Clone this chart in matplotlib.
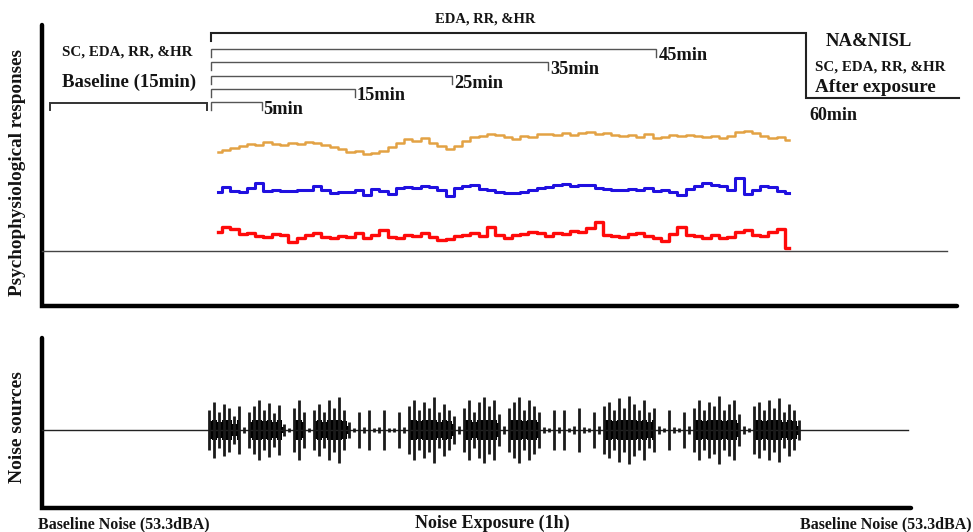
#!/usr/bin/env python3

import numpy as np
import matplotlib
matplotlib.use("Agg")
import matplotlib.pyplot as plt

# Schematic of the exposure protocol: physiological traces on top,
# noise waveform below. x is in minutes of exposure, y in figure pixels.

T0_PX = 211.0          # pixel column of minute 0
PX_PER_MIN = 9.917     # 60 min spans 211 -> 806 px

# nested measurement windows (label, right end in minutes as drawn)
window_labels = ["5min", "15min", "25min", "35min", "45min"]
window_ends = [5.1, 14.5, 24.3, 34.0, 44.9]

# traces: height in px above the reference line, sampled evenly
trace_start, trace_end = 0.7, 58.3
orange_vals = [99, 101, 103, 105, 107, 106, 109, 107, 106, 108,
               107, 109, 108, 106, 104, 102, 99, 100, 97, 98,
               100, 104, 108, 112, 110, 113, 108, 105, 102, 105,
               110, 114, 115, 117, 116, 114, 112, 115, 114, 117,
               117, 116, 118, 116, 118, 119, 117, 118, 116, 115,
               116, 114, 117, 113, 114, 116, 115, 116, 115, 114,
               115, 113, 115, 119, 120, 118, 115, 113, 114, 111]
blue_vals = [59, 64, 60, 59, 63, 68, 60, 61, 60, 60,
             61, 61, 65, 61, 58, 59, 59, 61, 56, 62,
             60, 57, 63, 64, 63, 65, 64, 61, 55, 63,
             65, 66, 62, 61, 59, 58, 58, 59, 61, 63,
             64, 66, 67, 65, 66, 66, 63, 62, 61, 61,
             62, 61, 63, 60, 61, 59, 56, 62, 65, 68,
             66, 65, 61, 73, 57, 61, 65, 64, 60, 58]
red_vals = [19, 24, 22, 17, 18, 15, 14, 17, 16, 9,
            13, 16, 18, 14, 13, 15, 14, 18, 13, 16,
            21, 14, 13, 16, 15, 18, 14, 11, 12, 15,
            16, 18, 15, 24, 16, 13, 16, 17, 19, 18,
            15, 18, 17, 20, 19, 23, 29, 16, 15, 14,
            17, 18, 15, 13, 10, 17, 24, 16, 15, 13,
            16, 13, 14, 19, 21, 16, 15, 19, 22, 3]

# noise envelope, px half height, sampled evenly over the exposure
noise_start, noise_end = -0.2, 59.3
noise_amp = [20, 28, 18, 26, 22, 14, 24, 3, 18, 24,
             30, 20, 27, 17, 25, 6, 2, 22, 30, 18,
             2, 20, 26, 18, 30, 22, 33, 20, 8, 2,
             18, 3, 20, 2, 3, 20, 2, 2, 18, 3,
             24, 30, 20, 28, 22, 33, 18, 26, 20, 14,
             4, 22, 30, 18, 28, 33, 24, 30, 16, 4,
             22, 28, 33, 20, 30, 24, 18, 3, 2, 20,
             3, 20, 2, 4, 22, 3, 2, 18, 4, 24,
             28, 20, 32, 22, 34, 26, 20, 30, 18, 22,
             4, 2, 20, 3, 2, 18, 4, 22, 30, 20,
             28, 24, 34, 20, 26, 30, 16, 4, 2, 24,
             28, 20, 30, 22, 32, 18, 26, 20, 10]

REF_LINE = 251
NOISE_LINE = 430
TEXT = "#141414"
FONT = "Liberation Serif"


def mx(px):
    # pixel column -> minutes
    return (px - T0_PX) / PX_PER_MIN


def bracket(ax, t0, t1, y, drop_l, drop_r, lw=1.0, color="#555555"):
    ax.plot([t0, t0, t1, t1], [y + drop_l, y, y, y + drop_r],
            color=color, lw=lw, solid_joinstyle="miter")


def label(ax, px, y, s, size, ha="left", **kw):
    ax.text(mx(px), y, s, fontsize=size, fontweight="bold", family=FONT,
            color=TEXT, ha=ha, va="center", **kw)


fig = plt.figure(figsize=(9.73, 5.32), dpi=100)
ax = fig.add_axes([0, 0, 1, 1])
ax.set_xlim(mx(0), mx(973))
ax.set_ylim(532, 0)
ax.axis("off")

# axes frames
ax.plot([mx(42), mx(42), mx(957)], [25, 306, 306], color="black", lw=3.2,
        solid_capstyle="round", solid_joinstyle="miter")
ax.plot([mx(42), mx(42), mx(911)], [338, 508, 508], color="black", lw=3.2,
        solid_capstyle="round", solid_joinstyle="miter")
ax.plot([mx(42), mx(947)], [REF_LINE, REF_LINE], color="#444444", lw=1.0)
ax.plot([mx(42), mx(908)], [NOISE_LINE, NOISE_LINE], color="#222222", lw=1.0)

# traces
t_tr = np.linspace(trace_start, trace_end, len(orange_vals))
ax.plot(t_tr, REF_LINE - np.array(orange_vals), color="#e3a244", lw=1.8,
        drawstyle="steps-mid")
ax.plot(t_tr, REF_LINE - np.array(blue_vals), color="#2010e0", lw=2.2,
        drawstyle="steps-mid")
ax.plot(t_tr, REF_LINE - np.array(red_vals), color="#ff0a0a", lw=2.4,
        drawstyle="steps-mid")

# noise waveform
t_n = np.linspace(noise_start, noise_end, len(noise_amp))
amp = np.array(noise_amp, dtype=float)
ax.vlines(t_n, NOISE_LINE - amp, NOISE_LINE + amp, color="#1a1a1a", lw=2.0)
core = np.minimum(amp * 0.45, 10)
ax.fill_between(t_n, NOISE_LINE - core, NOISE_LINE + core, color="black",
                lw=0, step="mid", where=amp > 5)

# baseline bracket
bracket(ax, mx(50), mx(207), 103, 7, 7, lw=1.4, color="#333333")
label(ax, 62, 52, "SC, EDA, RR, &HR", 10.8)
label(ax, 62, 82, "Baseline (15min)", 13.5)

# nested windows
levels = [102, 89, 76, 62, 49]
for lab, end, y in zip(window_labels, window_ends, levels):
    bracket(ax, 0, end, y, 8, 8)
    label(ax, T0_PX + end * PX_PER_MIN + 2, y + 7, lab, 13.2)

# whole exposure bracket and after exposure step
ax.plot([0, 0, 60, 60, mx(959)], [41, 33, 33, 98, 98], color="#222222",
        lw=1.5, solid_joinstyle="miter")
label(ax, 485, 19, "EDA, RR, &HR", 10.5, ha="center")
label(ax, 826, 42, "NA&NISL", 13.5)
label(ax, 815, 67, "SC, EDA, RR, &HR", 10.8)
label(ax, 815, 88, "After exposure", 13.8)
label(ax, 809, 115, "60min", 13)

# axis titles
label(ax, 18, 173, "Psychophysiological responses", 13.8, ha="center",
      rotation=90)
label(ax, 18, 427, "Noise sources", 14, ha="center", rotation=90)
label(ax, 38, 524, "Baseline Noise (53.3dBA)", 11.5)
label(ax, 492, 523, "Noise Exposure (1h)", 13, ha="center")
label(ax, 800, 524, "Baseline Noise (53.3dBA)", 11.5)

fig.savefig("out.png", dpi=100)
